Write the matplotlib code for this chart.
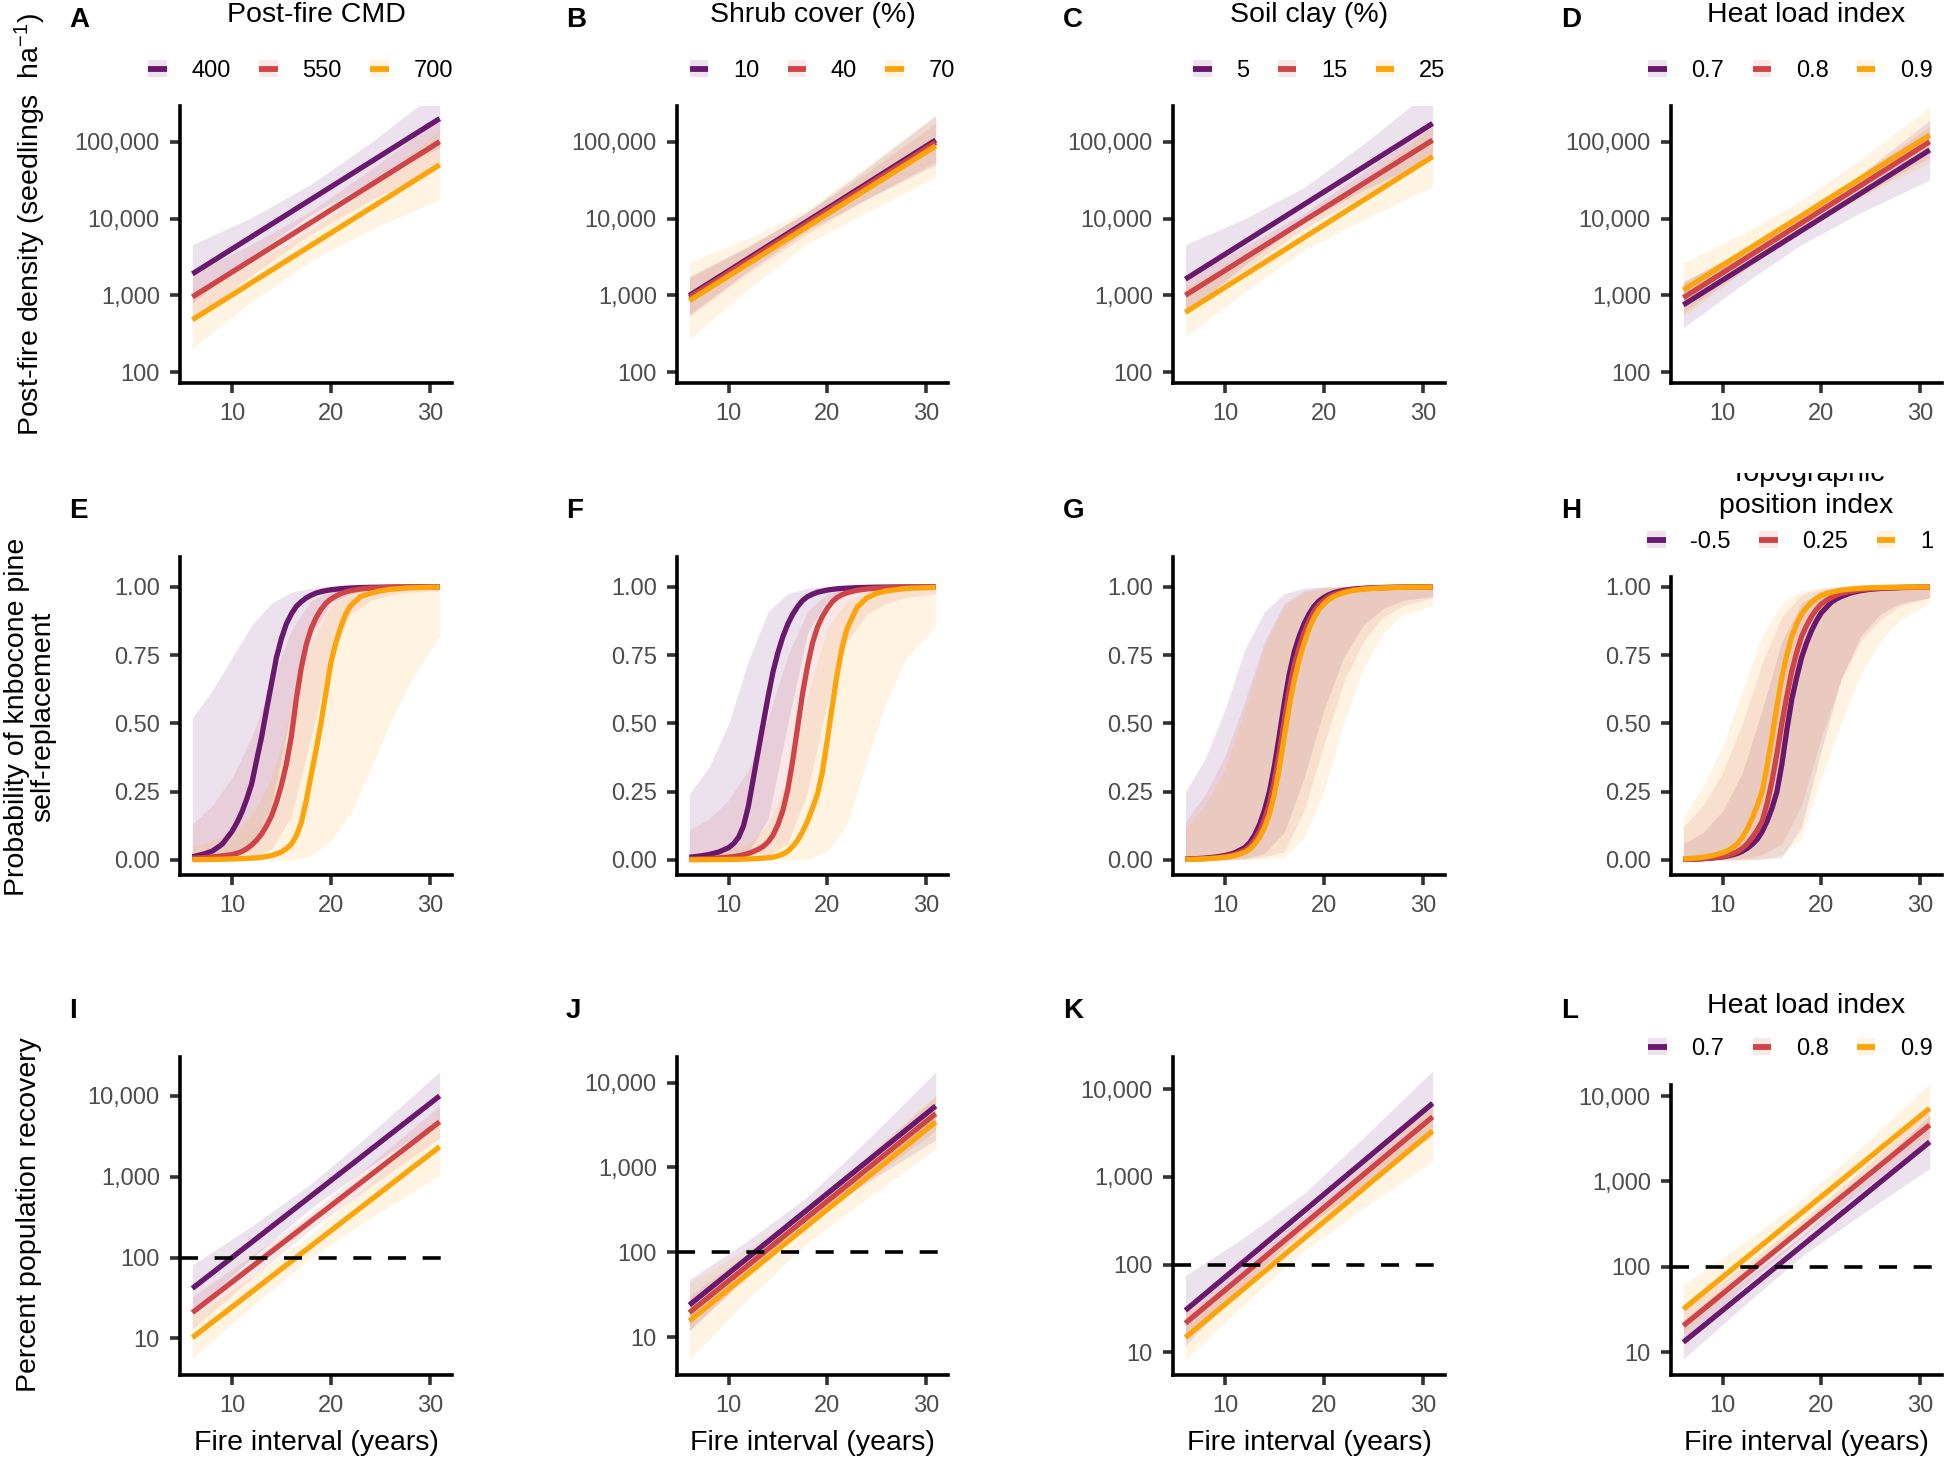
import matplotlib.pyplot as plt
from matplotlib.lines import Line2D
from matplotlib.patches import Patch
from matplotlib.legend_handler import HandlerTuple
from matplotlib.ticker import NullLocator
from matplotlib.transforms import Bbox, TransformedBbox

plt.rcParams['font.family'] = 'Liberation Sans'
plt.rcParams['mathtext.fontset'] = 'custom'
plt.rcParams['mathtext.rm'] = 'Liberation Sans'
plt.rcParams['mathtext.it'] = 'Liberation Sans:italic'

W, H = 1944, 1459
colors = ['#6A176E', '#CF4446', '#FCA50A']

# x positions (fire interval, years)
line_x = [6, 31]
band_x = [6, 12, 18, 24, 31]
prob_x = [6, 7, 8, 9, 10, 10.5, 11, 11.5, 12, 12.5, 13, 13.5, 14, 14.5, 15, 15.5, 16, 16.5,
          17, 17.5, 18, 18.5, 19, 19.5, 20, 20.5, 21, 21.5, 22, 23, 24, 25, 26, 28, 31]
prob_band_x = [6, 8, 10, 12, 14, 16, 18, 20, 22, 24, 26, 28, 31]

x_ticks = [10, 20, 30]
dens_ticks = [100, 1000, 10000, 100000]
dens_labels = ['100', '1,000', '10,000', '100,000']
prob_ticks = [0, 0.25, 0.5, 0.75, 1.0]
prob_labels = ['0.00', '0.25', '0.50', '0.75', '1.00']
rec_ticks = [10, 100, 1000, 10000]
rec_labels = ['10', '100', '1,000', '10,000']

# ---- row 1: post-fire density ----
a_mean = [[1900, 200000], [950, 100000], [480, 50000]]
a_lo = [[790, 3270, 11200, 30500, 83400], [476, 1830, 6280, 17100, 50000], [205, 822, 2820, 7140, 17700]]
a_hi = [[4560, 10300, 28100, 96600, 480000], [1900, 4600, 12500, 43000, 200000], [1120, 2600, 7080, 25900, 141000]]

b_mean = [[990, 105000], [940, 98000], [850, 88000]]
b_lo = [[557, 2090, 7010, 17800, 50200], [528, 1940, 6320, 18000, 55100], [269, 1210, 4740, 12000, 35000]]
b_hi = [[1760, 4380, 12200, 44800, 219000], [1670, 4240, 12100, 39400, 174000], [2690, 5530, 13100, 47900, 221000]]

c_mean = [[1620, 173000], [1000, 105000], [600, 64000]]
c_lo = [[575, 2490, 9180, 23400, 61400], [603, 2160, 7410, 20200, 63200], [287, 1110, 3900, 9730, 26100]]
c_hi = [[4570, 9930, 25300, 93300, 488000], [1660, 4320, 11700, 40300, 174000], [1250, 3050, 8150, 30800, 157000]]

d_mean = [[750, 78000], [930, 100000], [1170, 122000]]
d_lo = [[376, 1380, 4600, 11900, 31800], [586, 2070, 6980, 19500, 63100], [522, 2000, 6850, 18600, 53200]]
d_hi = [[1500, 3790, 10500, 37800, 191000], [1470, 3940, 11100, 37200, 158000], [2620, 6340, 17200, 58900, 279000]]

# ---- row 2: probability of self-replacement ----
e_mean = [[0.012, 0.02, 0.032, 0.057, 0.104, 0.136, 0.175, 0.223, 0.279, 0.366, 0.45, 0.55, 0.646, 0.741, 0.81, 0.864, 0.9, 0.928,
           0.945, 0.959, 0.969, 0.977, 0.982, 0.986, 0.989, 0.991, 0.993, 0.9945, 0.9955, 0.997, 0.998, 0.9985, 0.9989, 0.9994, 0.9997],
          [0.0061, 0.0082, 0.011, 0.0148, 0.0198, 0.0241, 0.0308, 0.0411, 0.0547, 0.0724, 0.0953, 0.125, 0.161, 0.211, 0.273, 0.35, 0.45, 0.587,
           0.701, 0.786, 0.846, 0.886, 0.917, 0.94, 0.955, 0.966, 0.975, 0.981, 0.986, 0.992, 0.995, 0.997, 0.998, 0.9991, 0.9997],
          [0.0009, 0.0014, 0.002, 0.0027, 0.0037, 0.0043, 0.005, 0.0058, 0.0067, 0.0082, 0.01, 0.0127, 0.0163, 0.0219, 0.0293, 0.0411, 0.0573, 0.0871,
           0.136, 0.214, 0.31, 0.401, 0.5, 0.611, 0.721, 0.794, 0.852, 0.9, 0.931, 0.964, 0.976, 0.985, 0.991, 0.9963, 0.9989]]
e_lo = [[0, 0.002, 0.012, 0.05, 0.2, 0.55, 0.82, 0.94, 0.975, 0.99, 0.995, 0.998, 1],
        [0, 0, 0.002, 0.01, 0.04, 0.16, 0.45, 0.75, 0.9, 0.95, 0.97, 0.98, 0.985],
        [0, 0, 0, 0, 0, 0, 0.015, 0.07, 0.17, 0.33, 0.5, 0.65, 0.82]]
e_hi = [[0.52, 0.62, 0.74, 0.86, 0.94, 0.98, 0.995, 1, 1, 1, 1, 1, 1],
        [0.13, 0.2, 0.3, 0.45, 0.65, 0.84, 0.95, 0.985, 0.996, 1, 1, 1, 1],
        [0.05, 0.07, 0.1, 0.16, 0.3, 0.55, 0.8, 0.93, 0.98, 0.995, 1, 1, 1]]

f_mean = [[0.01, 0.014, 0.0198, 0.0293, 0.0452, 0.06, 0.083, 0.125, 0.198, 0.299, 0.401, 0.5, 0.599, 0.69, 0.76, 0.818, 0.864, 0.9,
           0.928, 0.95, 0.964, 0.973, 0.98, 0.984, 0.988, 0.9905, 0.9926, 0.994, 0.995, 0.9967, 0.9978, 0.9985, 0.9989, 0.9994, 0.9997],
          [0.003, 0.0041, 0.0055, 0.0074, 0.0105, 0.0127, 0.0155, 0.0189, 0.0241, 0.0308, 0.0392, 0.0497, 0.066, 0.0911, 0.13, 0.182, 0.259, 0.366,
           0.488, 0.611, 0.711, 0.794, 0.852, 0.891, 0.921, 0.945, 0.961, 0.971, 0.978, 0.987, 0.992, 0.995, 0.9967, 0.9985, 0.9994],
          [0.0006, 0.0007, 0.001, 0.0014, 0.0018, 0.0021, 0.0025, 0.0029, 0.0035, 0.0043, 0.0052, 0.0067, 0.0082, 0.0105, 0.0148, 0.0219, 0.0323, 0.0497,
           0.0724, 0.104, 0.142, 0.19, 0.24, 0.321, 0.438, 0.562, 0.679, 0.777, 0.846, 0.924, 0.959, 0.976, 0.985, 0.994, 0.998]]
f_lo = [[0, 0.001, 0.005, 0.03, 0.15, 0.5, 0.83, 0.95, 0.985, 0.995, 1, 1, 1],
        [0, 0, 0.001, 0.004, 0.015, 0.06, 0.25, 0.58, 0.8, 0.9, 0.94, 0.96, 0.975],
        [0, 0, 0, 0, 0, 0, 0.004, 0.03, 0.13, 0.36, 0.58, 0.74, 0.855]]
f_hi = [[0.24, 0.34, 0.5, 0.73, 0.91, 0.975, 0.995, 1, 1, 1, 1, 1, 1],
        [0.11, 0.15, 0.22, 0.33, 0.52, 0.75, 0.91, 0.975, 0.993, 1, 1, 1, 1],
        [0.02, 0.03, 0.04, 0.06, 0.13, 0.3, 0.6, 0.85, 0.95, 0.985, 0.996, 1, 1]]

g_mean = [[0.003, 0.0045, 0.0067, 0.0105, 0.0163, 0.0208, 0.0266, 0.0356, 0.0452, 0.063, 0.0911, 0.13, 0.182, 0.25, 0.343, 0.455, 0.574, 0.679,
           0.76, 0.818, 0.864, 0.9, 0.928, 0.948, 0.961, 0.971, 0.978, 0.983, 0.987, 0.992, 0.9945, 0.9963, 0.9975, 0.9988, 0.9995],
          [0.0024, 0.0035, 0.0052, 0.0082, 0.0127, 0.0163, 0.0208, 0.0279, 0.0356, 0.0497, 0.0724, 0.104, 0.148, 0.206, 0.289, 0.394, 0.512, 0.622,
           0.711, 0.777, 0.832, 0.875, 0.909, 0.934, 0.95, 0.963, 0.972, 0.978, 0.983, 0.9895, 0.993, 0.9953, 0.9968, 0.9984, 0.9994],
          [0.0018, 0.0027, 0.0041, 0.0064, 0.01, 0.0127, 0.0163, 0.0219, 0.0279, 0.0392, 0.0573, 0.0832, 0.119, 0.168, 0.24, 0.336, 0.45, 0.562,
           0.657, 0.731, 0.794, 0.846, 0.886, 0.917, 0.937, 0.953, 0.964, 0.972, 0.978, 0.987, 0.991, 0.994, 0.9959, 0.998, 0.9992]]
g_lo = [[0, 0, 0.001, 0.005, 0.025, 0.1, 0.3, 0.55, 0.74, 0.86, 0.92, 0.95, 0.965],
        [0, 0, 0.001, 0.004, 0.012, 0.03, 0.18, 0.42, 0.65, 0.8, 0.89, 0.93, 0.96],
        [0, 0, 0, 0.001, 0.003, 0.01, 0.08, 0.25, 0.5, 0.7, 0.83, 0.9, 0.93]]
g_hi = [[0.25, 0.37, 0.55, 0.77, 0.91, 0.975, 0.995, 1, 1, 1, 1, 1, 1],
        [0.14, 0.24, 0.38, 0.58, 0.8, 0.94, 0.985, 0.997, 1, 1, 1, 1, 1],
        [0.12, 0.2, 0.33, 0.55, 0.78, 0.93, 0.98, 0.995, 1, 1, 1, 1, 1]]

h_mean = [[0.002, 0.003, 0.0047, 0.0074, 0.0115, 0.0148, 0.0189, 0.0241, 0.0323, 0.0431, 0.0573, 0.0759, 0.104, 0.142, 0.19, 0.25, 0.35, 0.475,
           0.587, 0.668, 0.741, 0.794, 0.839, 0.875, 0.905, 0.924, 0.943, 0.955, 0.964, 0.978, 0.986, 0.991, 0.994, 0.9973, 0.9991],
          [0.002, 0.0032, 0.005, 0.0082, 0.0134, 0.0171, 0.023, 0.0308, 0.0431, 0.06, 0.0832, 0.109, 0.142, 0.206, 0.289, 0.389, 0.5, 0.599,
           0.69, 0.76, 0.818, 0.858, 0.891, 0.917, 0.937, 0.95, 0.961, 0.969, 0.976, 0.984, 0.99, 0.993, 0.9955, 0.9978, 0.9991],
          [0.0041, 0.0064, 0.01, 0.0163, 0.0266, 0.0339, 0.0452, 0.06, 0.0832, 0.114, 0.154, 0.198, 0.25, 0.343, 0.45, 0.562, 0.668, 0.75,
           0.818, 0.864, 0.9, 0.924, 0.943, 0.957, 0.968, 0.975, 0.98, 0.984, 0.988, 0.992, 0.995, 0.9967, 0.9978, 0.9989, 0.9995]]
h_lo = [[0, 0, 0, 0, 0.003, 0.01, 0.12, 0.4, 0.66, 0.82, 0.9, 0.94, 0.96],
        [0, 0, 0.001, 0.005, 0.02, 0.06, 0.2, 0.45, 0.66, 0.8, 0.88, 0.93, 0.96],
        [0, 0, 0, 0.001, 0.004, 0.02, 0.08, 0.3, 0.5, 0.68, 0.8, 0.88, 0.94]]
h_hi = [[0.06, 0.1, 0.18, 0.32, 0.55, 0.8, 0.94, 0.985, 0.997, 1, 1, 1, 1],
        [0.12, 0.2, 0.32, 0.5, 0.72, 0.89, 0.97, 0.993, 1, 1, 1, 1, 1],
        [0.16, 0.27, 0.42, 0.62, 0.82, 0.94, 0.985, 0.997, 1, 1, 1, 1, 1]]

# ---- row 3: percent population recovery ----
i_mean = [[41.5, 10000], [20.8, 4780], [10.2, 2350]]
i_lo = [[21.3, 97.7, 409, 1360, 5010], [13.1, 55.6, 224, 755, 3010], [5.6, 24.9, 100, 308, 1050]]
i_hi = [[81, 245, 817, 3410, 20000], [33, 106, 356, 1440, 7570], [18.6, 57, 191, 849, 5260]]

j_mean = [[24, 5300], [19.5, 4300], [15.6, 3440]]
j_lo = [[12, 55.3, 227, 659, 2110], [12.3, 51.5, 206, 687, 2710], [5.5, 28.6, 131, 429, 1650]]
j_hi = [[47.9, 139, 453, 2080, 13300], [30.9, 98.2, 327, 1310, 6810], [44, 114, 330, 1360, 7190]]

k_mean = [[30, 6900], [21.4, 4840], [14.7, 3350]]
k_lo = [[11.9, 59.4, 258, 809, 2940], [14.1, 59.6, 229, 805, 3200], [8.1, 35.7, 144, 442, 1500]]
k_hi = [[75, 206, 647, 2800, 16200], [32.4, 104, 363, 1400, 7330], [26.7, 81.8, 275, 1220, 7500]]

l_mean = [[13.1, 2900], [20.5, 4580], [32, 7180]]
l_lo = [[8.3, 33.9, 133, 404, 1420], [13.6, 57, 219, 766, 3030], [16.8, 74, 304, 993, 3680]]
l_hi = [[20.7, 67.6, 231, 1010, 5920], [31, 99, 347, 1330, 6930], [61, 186, 607, 2490, 14000]]

# legend values
cmd_levels = ['400', '550', '700']
shrub_levels = ['10', '40', '70']
clay_levels = ['5', '15', '25']
hli_levels = ['0.7', '0.8', '0.9']
tpi_levels = ['-0.5', '0.25', '1']


fig = plt.figure(figsize=(W / 100, H / 100), dpi=100)

cols = [(180, 452), (677, 948), (1173, 1445), (1671, 1942)]
tag_x = [69, 566, 1063, 1561]
tag_base = [27, 518, 1018]

# (tag, row, col, top px, bottom px, kind, mean, lo, hi, ylim)
panels = [
    ('A', 0, 0, 106, 383, 'dens', a_mean, a_lo, a_hi, (72, 292000)),
    ('B', 0, 1, 106, 383, 'dens', b_mean, b_lo, b_hi, (72, 292000)),
    ('C', 0, 2, 106, 383, 'dens', c_mean, c_lo, c_hi, (72, 292000)),
    ('D', 0, 3, 106, 383, 'dens', d_mean, d_lo, d_hi, (72, 292000)),
    ('E', 1, 0, 557, 875, 'prob', e_mean, e_lo, e_hi, (-0.055, 1.109)),
    ('F', 1, 1, 557, 875, 'prob', f_mean, f_lo, f_hi, (-0.055, 1.109)),
    ('G', 1, 2, 557, 875, 'prob', g_mean, g_lo, g_hi, (-0.055, 1.109)),
    ('H', 1, 3, 577, 875, 'prob', h_mean, h_lo, h_hi, (-0.055, 1.036)),
    ('I', 2, 0, 1057, 1375, 'rec', i_mean, i_lo, i_hi, (3.52, 30300)),
    ('J', 2, 1, 1057, 1375, 'rec', j_mean, j_lo, j_hi, (3.6, 20000)),
    ('K', 2, 2, 1057, 1375, 'rec', k_mean, k_lo, k_hi, (5.5, 23300)),
    ('L', 2, 3, 1085, 1375, 'rec', l_mean, l_lo, l_hi, (5.42, 13460)),
]

axes = {}
for tag, row, col, top, bot, kind, mean, lo, hi, ylim in panels:
    left, right = cols[col]
    ax = fig.add_axes([left / W, 1 - bot / H, (right - left) / W, (bot - top) / H])
    axes[tag] = ax

    if kind == 'prob':
        xm, xb = prob_x, prob_band_x
    else:
        xm, xb = line_x, band_x
        ax.set_yscale('log')

    # ribbons first, then the fitted lines
    for k in range(3):
        ax.fill_between(xb, lo[k], hi[k], color=colors[k], alpha=0.12, lw=0, zorder=1)
    for k in range(3):
        ax.plot(xm, mean[k], color=colors[k], lw=3.8, solid_capstyle='butt',
                solid_joinstyle='round', zorder=2)

    if kind == 'rec':
        ax.axhline(100, color='black', lw=2.6, linestyle=(0, (5.0, 4.6)), zorder=3)

    ax.set_xlim(4.75, 32.25)
    ax.set_ylim(*ylim)
    ax.set_xticks(x_ticks, labels=[str(v) for v in x_ticks])
    if kind == 'dens':
        ax.set_yticks(dens_ticks, labels=dens_labels)
    elif kind == 'prob':
        ax.set_yticks(prob_ticks, labels=prob_labels)
    else:
        ax.set_yticks(rec_ticks, labels=rec_labels)
    ax.yaxis.set_minor_locator(NullLocator())

    for s in ['top', 'right']:
        ax.spines[s].set_visible(False)
    for s in ['left', 'bottom']:
        ax.spines[s].set_linewidth(2.6)
        ax.spines[s].set_color('black')
        ax.spines[s].set_capstyle('projecting')
    ax.tick_params(length=7.5, width=2.6, color='#333333', labelsize=17,
                   labelcolor='#4D4D4D', pad=7)
    ax.patch.set_alpha(0)

    fig.text(tag_x[col] / W, 1 - tag_base[row] / H, tag, fontsize=20,
             fontweight='bold', ha='left', va='baseline')

    if row == 2:
        fig.text((left + right) / 2 / W, 1 - 1450 / H, 'Fire interval (years)',
                 fontsize=20.5, ha='center', va='baseline')


# legends with their titles above
def add_legend(tag, title, title_base, labels, right_px, center_px):
    ax = axes[tag]
    pos = ax.get_position()
    handles = [(Patch(facecolor=c, alpha=0.12, edgecolor='none'),
                Line2D([], [], color=c, lw=4.2, solid_capstyle='butt')) for c in colors]
    ax.legend(handles, labels, ncol=3, loc='center right',
              bbox_to_anchor=(right_px / W, 1 - center_px / H),
              bbox_transform=fig.transFigure, frameon=False, borderpad=0,
              borderaxespad=0, handlelength=0.78, handleheight=0.76,
              handletextpad=1.05, columnspacing=1.2, fontsize=17,
              handler_map={tuple: HandlerTuple(ndivide=1, pad=0)})
    fig.text((pos.x0 + pos.x1) / 2, 1 - title_base / H, title, fontsize=20.5,
             ha='center', va='baseline')


add_legend('A', 'Post-fire CMD', 22, cmd_levels, 453, 71)
add_legend('B', 'Shrub cover (%)', 22, shrub_levels, 955, 71)
add_legend('C', 'Soil clay (%)', 22, clay_levels, 1445, 71)
add_legend('D', 'Heat load index', 22, hli_levels, 1933, 71)
add_legend('H', 'position index', 513, tpi_levels, 1933, 542)
add_legend('L', 'Heat load index', 1013, hli_levels, 1933, 1049)

# first line of the H title is cut off by the panel above
topo = fig.text(1807 / W, 1 - 481 / H, 'Topographic', fontsize=20.5,
                ha='center', va='baseline')
topo.set_clip_box(TransformedBbox(Bbox.from_extents(0, 0, 1, 1 - 473 / H), fig.transFigure))
topo.set_clip_on(True)

# y axis titles
fig.text(30 / W, 1 - 224 / H, r'Post-fire density (seedlings  ha$^{-1}$)',
         fontsize=20.5, rotation=90, ha='center', va='center')
fig.text(30 / W, 1 - 717 / H, 'Probability of knbocone pine\nself-replacement',
         fontsize=20.5, rotation=90, ha='center', va='center',
         multialignment='center', linespacing=1.0)
fig.text(29 / W, 1 - 1215 / H, 'Percent population recovery',
         fontsize=20.5, rotation=90, ha='center', va='center')

fig.savefig('out.png', dpi=100)
